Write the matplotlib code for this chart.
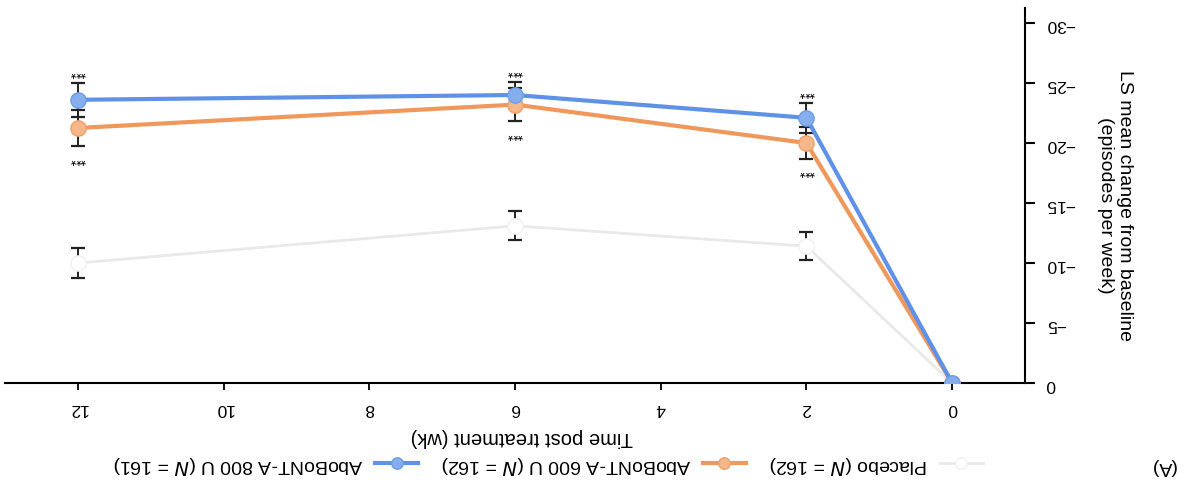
import matplotlib.pyplot as plt

plt.rcParams['font.family'] = ['Liberation Sans', 'DejaVu Sans']

# LS mean change from baseline (episodes per week); the printed page is upside down
weeks = [0, 2, 6, 12]
placebo = [0, -11.4, -13.1, -10.0]
dose600 = [0, -20.0, -23.2, -21.25]
dose800 = [0, -22.1, -24.0, -23.6]

err_placebo = [0, 1.15, 1.2, 1.25]
err600 = [0, 1.3, 1.4, 1.5]
err800 = [0, 1.25, 1.1, 1.4]

labels = ['Placebo ($N$ = 162)', 'AboBoNT-A 600 U ($N$ = 162)', 'AboBoNT-A 800 U ($N$ = 161)']
xticks = [0, 2, 4, 6, 8, 10, 12]
yticks = [0, -5, -10, -15, -20, -25, -30]

fig = plt.figure(figsize=(11.87, 4.92), dpi=100)
ax = fig.add_axes([5 / 1187, 109 / 492, 1020 / 1187, 375 / 492])

# error bars first, then lines with markers on top
for vals, errs in [(placebo, err_placebo), (dose600, err600), (dose800, err800)]:
    ax.errorbar(weeks[1:], vals[1:], yerr=errs[1:], fmt='none', ecolor='#222222',
                elinewidth=1.4, capsize=5, capthick=1.6, zorder=2)

l0, = ax.plot(weeks, placebo, color='#e9e9e9', lw=2, marker='o', ms=11,
              mfc='white', mec='#f0f0f0', label=labels[0], zorder=3)
l1, = ax.plot(weeks, dose600, color='#f0975c', lw=3, marker='o', ms=11,
              mfc='#f6b88a', mec='#f0a06a', label=labels[1], zorder=4)
l2, = ax.plot(weeks, dose800, color='#5f92e6', lw=3, marker='o', ms=11,
              mfc='#86aeee', mec='#6f9de8', label=labels[2], zorder=5)

# significance marks
for x, y, e in zip(weeks[1:], dose800[1:], err800[1:]):
    ax.text(x, y - e - 1.0, '***', rotation=180, ha='center', va='center', fontsize=10)
for x, y, e in zip(weeks[1:], dose600[1:], err600[1:]):
    ax.text(x, y + e + 1.0, '***', rotation=180, ha='center', va='center', fontsize=10)

ax.set_xlim(13, -1)
ax.set_ylim(0, -31.25)
ax.spines['top'].set_visible(False)
ax.spines['left'].set_visible(False)
ax.spines['bottom'].set_linewidth(1.5)
ax.spines['right'].set_linewidth(1.5)
ax.yaxis.tick_right()

ax.set_xticks(xticks)
ax.set_xticklabels([str(t) for t in xticks], rotation=180, fontsize=12.5)
ax.set_yticks(yticks)
ax.set_yticklabels([str(t).replace('-', '\u2212') for t in yticks], rotation=180, fontsize=12.5)
ax.tick_params(axis='x', length=5, width=1.3, pad=8)
ax.tick_params(axis='y', length=7, width=1.5, pad=8)

fig.text(522 / 1187, 1 - 437 / 492, 'Time post treatment (wk)', rotation=180,
         ha='center', va='center', fontsize=14.5)
fig.text(1115 / 1187, 1 - 205 / 492, 'LS mean change from baseline\n(episodes per week)',
         rotation=270, ha='center', va='center', fontsize=14, multialignment='center')
fig.text(1163 / 1187, 1 - 466 / 492, '(A)', rotation=180, ha='center', va='center', fontsize=14)

leg = fig.legend([l2, l1, l0], [labels[2], labels[1], labels[0]], ncol=3, markerfirst=False,
                 loc='center', bbox_to_anchor=(548 / 1187, 1 - 465 / 492), frameon=False,
                 fontsize=14, handlelength=2.2, columnspacing=1.2, handletextpad=0.6,
                 markerscale=0.75)
for t in leg.get_texts():
    t.set_rotation(180)

fig.savefig('out.png', dpi=100)
